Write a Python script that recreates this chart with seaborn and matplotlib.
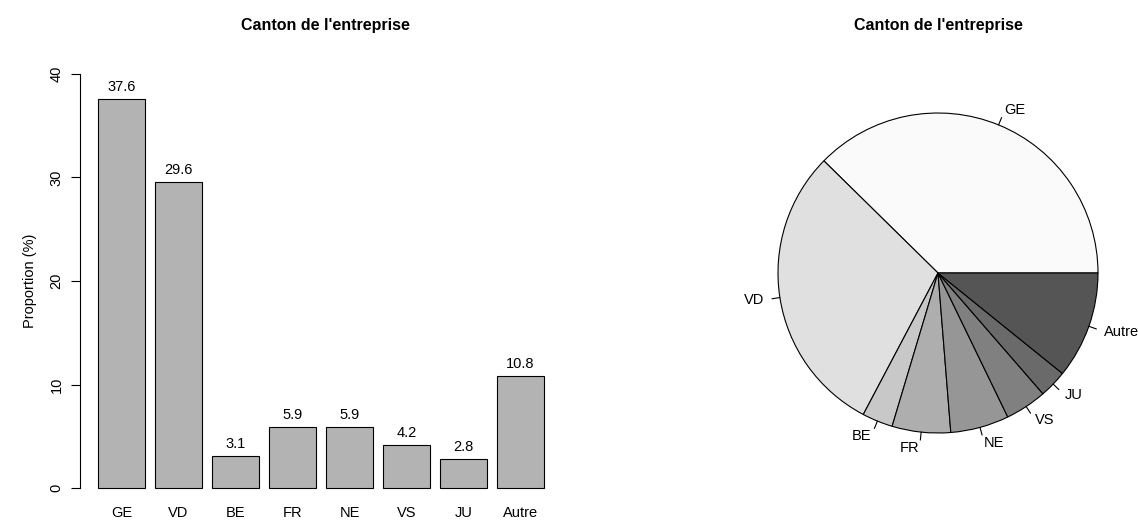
import numpy as np
import pandas as pd
import matplotlib
matplotlib.use("Agg")
import matplotlib.pyplot as plt
import seaborn as sns

# Data: proportion (%) of companies per canton
cantons = ["GE", "VD", "BE", "FR", "NE", "VS", "JU", "Autre"]
proportions = [37.6, 29.6, 3.1, 5.9, 5.9, 4.2, 2.8, 10.8]
title = "Canton de l'entreprise"

pie_colors = ["#FAFAFA", "#E0E0E0", "#C8C8C8", "#AEAEAE",
              "#969696", "#808080", "#6A6A6A", "#555555"]

sns.set_style("white")
plt.rcParams['font.family'] = ['Liberation Sans', 'DejaVu Sans']
plt.rcParams['text.color'] = 'black'
plt.rcParams['axes.labelcolor'] = 'black'
plt.rcParams['xtick.color'] = 'black'
plt.rcParams['ytick.color'] = 'black'

fs = 10.5
df = pd.DataFrame({"canton": cantons, "prop": proportions})

W, H = 1138, 520
fig = plt.figure(figsize=(W / 100, H / 100), dpi=100)

# 1. Bar chart (left)
ax1 = fig.add_axes([79.5 / W, (H - 504.6) / H, 492.5 / W, 447.2 / H])
sns.barplot(data=df, x="canton", y="prop", color="#B3B3B3", saturation=1,
            width=1 / 1.2, edgecolor="black", linewidth=0.8, ax=ax1)
ax1.bar_label(ax1.containers[0], labels=["%.1f" % v for v in proportions],
              padding=3.5, fontsize=fs)
ax1.set_xlim(-0.737, 7.903)
ax1.set_ylim(-1.6, 41.6)
ax1.set_yticks([0, 10, 20, 30, 40])
ax1.set_yticklabels(["0", "10", "20", "30", "40"], rotation=90, va="center")
for s in ["top", "right", "bottom"]:
    ax1.spines[s].set_visible(False)
ax1.spines["left"].set_bounds(0, 40)
ax1.spines["left"].set_linewidth(0.8)
ax1.spines["left"].set_color("black")
ax1.tick_params(axis="y", length=6.5, width=0.8, pad=5, labelsize=fs,
                left=True, direction="out")
ax1.tick_params(axis="x", length=0, pad=1, labelsize=fs)
ax1.set_xlabel("")
ax1.set_ylabel("Proportion (%)", fontsize=fs, labelpad=9)
ax1.set_title(title, fontsize=11.5, fontweight="bold", pad=20)

# 2. Pie chart (right)
cx, cy, r = 938, 273, 160
size = 2.4 * r
ax2 = fig.add_axes([(cx - size / 2) / W, (H - cy - size / 2) / H, size / W, size / H])
wedges, texts = ax2.pie(proportions, labels=cantons, colors=pie_colors,
                        startangle=0, counterclock=True, radius=1,
                        labeldistance=1.1,
                        wedgeprops=dict(edgecolor="black", linewidth=0.8),
                        textprops=dict(fontsize=fs))
for w in wedges:
    mid = np.deg2rad((w.theta1 + w.theta2) / 2)
    ax2.plot([np.cos(mid), 1.05 * np.cos(mid)], [np.sin(mid), 1.05 * np.sin(mid)],
             color="black", lw=0.8)
ax2.set_xlim(-1.2, 1.2)
ax2.set_ylim(-1.2, 1.2)
ax2.set_aspect("equal")
ax2.axis("off")
ax2.set_title(title, fontsize=11.5, fontweight="bold", pad=37)

plt.savefig("out.png", dpi=100)
